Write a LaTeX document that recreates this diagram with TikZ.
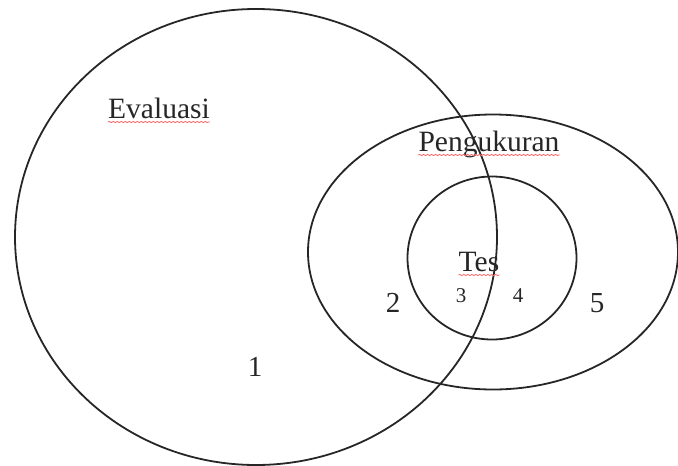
\documentclass[tikz,border=0pt]{standalone}
\usepackage{fontspec}
\setmainfont{Liberation Serif}
\usepackage{tikz}
\usetikzlibrary{positioning}
\usetikzlibrary{shapes,decorations,decorations.pathmorphing,calc}
\tikzset{
	x=1pt, y=-1pt,
	venn/.style = {ellipse, draw=black!85, line width=1.8pt, inner sep=0pt},
	setlabel/.style = {inner sep=0pt, text=black!85, font=\fontsize{29.5}{32}\selectfont},
	region/.style = {inner sep=0pt, text=black!85, font=\fontsize{29}{32}\selectfont},
	small region/.style = {inner sep=0pt, text=black!85, font=\fontsize{21}{24}\selectfont},
	squiggle/.style = {draw=red!60, line width=0.8pt, decorate,
	 decoration={snake, amplitude=0.6pt, segment length=4pt}},
}

\begin{document}
\begin{tikzpicture}
	\useasboundingbox (0,0) rectangle (678,466);
	% the three sets
	\node (Evaluasi) [venn, minimum width=482pt, minimum height=456pt] at (256,237) {};
	\node (Pengukuran) [venn, minimum width=370pt, minimum height=275pt] at (493,252) {};
	\node (Tes) [venn, minimum width=169pt, minimum height=163pt] at (492,258) {};
	% names
	\node (lblEvaluasi) [setlabel, anchor=base] at (159,118) {Evaluasi};
	\node (lblPengukuran) [setlabel, anchor=base] at (489,151) {Pengukuran};
	\node (lblTes) [setlabel, anchor=base] at (479,271) {Tes};
	\draw[squiggle] ([yshift=-4pt]lblEvaluasi.base west) -- ([yshift=-4pt]lblEvaluasi.base east);
	\draw[squiggle] ([yshift=-4pt]lblPengukuran.base west) -- ([yshift=-4pt]lblPengukuran.base east);
	\draw[squiggle] ([yshift=-4pt]lblTes.base west) -- ([yshift=-4pt]lblTes.base east);
	% regions
	\node (r1) [region] at (255,367) {1};
	\node (r2) [region] at (393,303) {2};
	\node (r3) [small region] at (461,296) {3};
	\node (r4) [small region] at (518,296) {4};
	\node (r5) [region] at (597,303) {5};
\end{tikzpicture}
\end{document}
